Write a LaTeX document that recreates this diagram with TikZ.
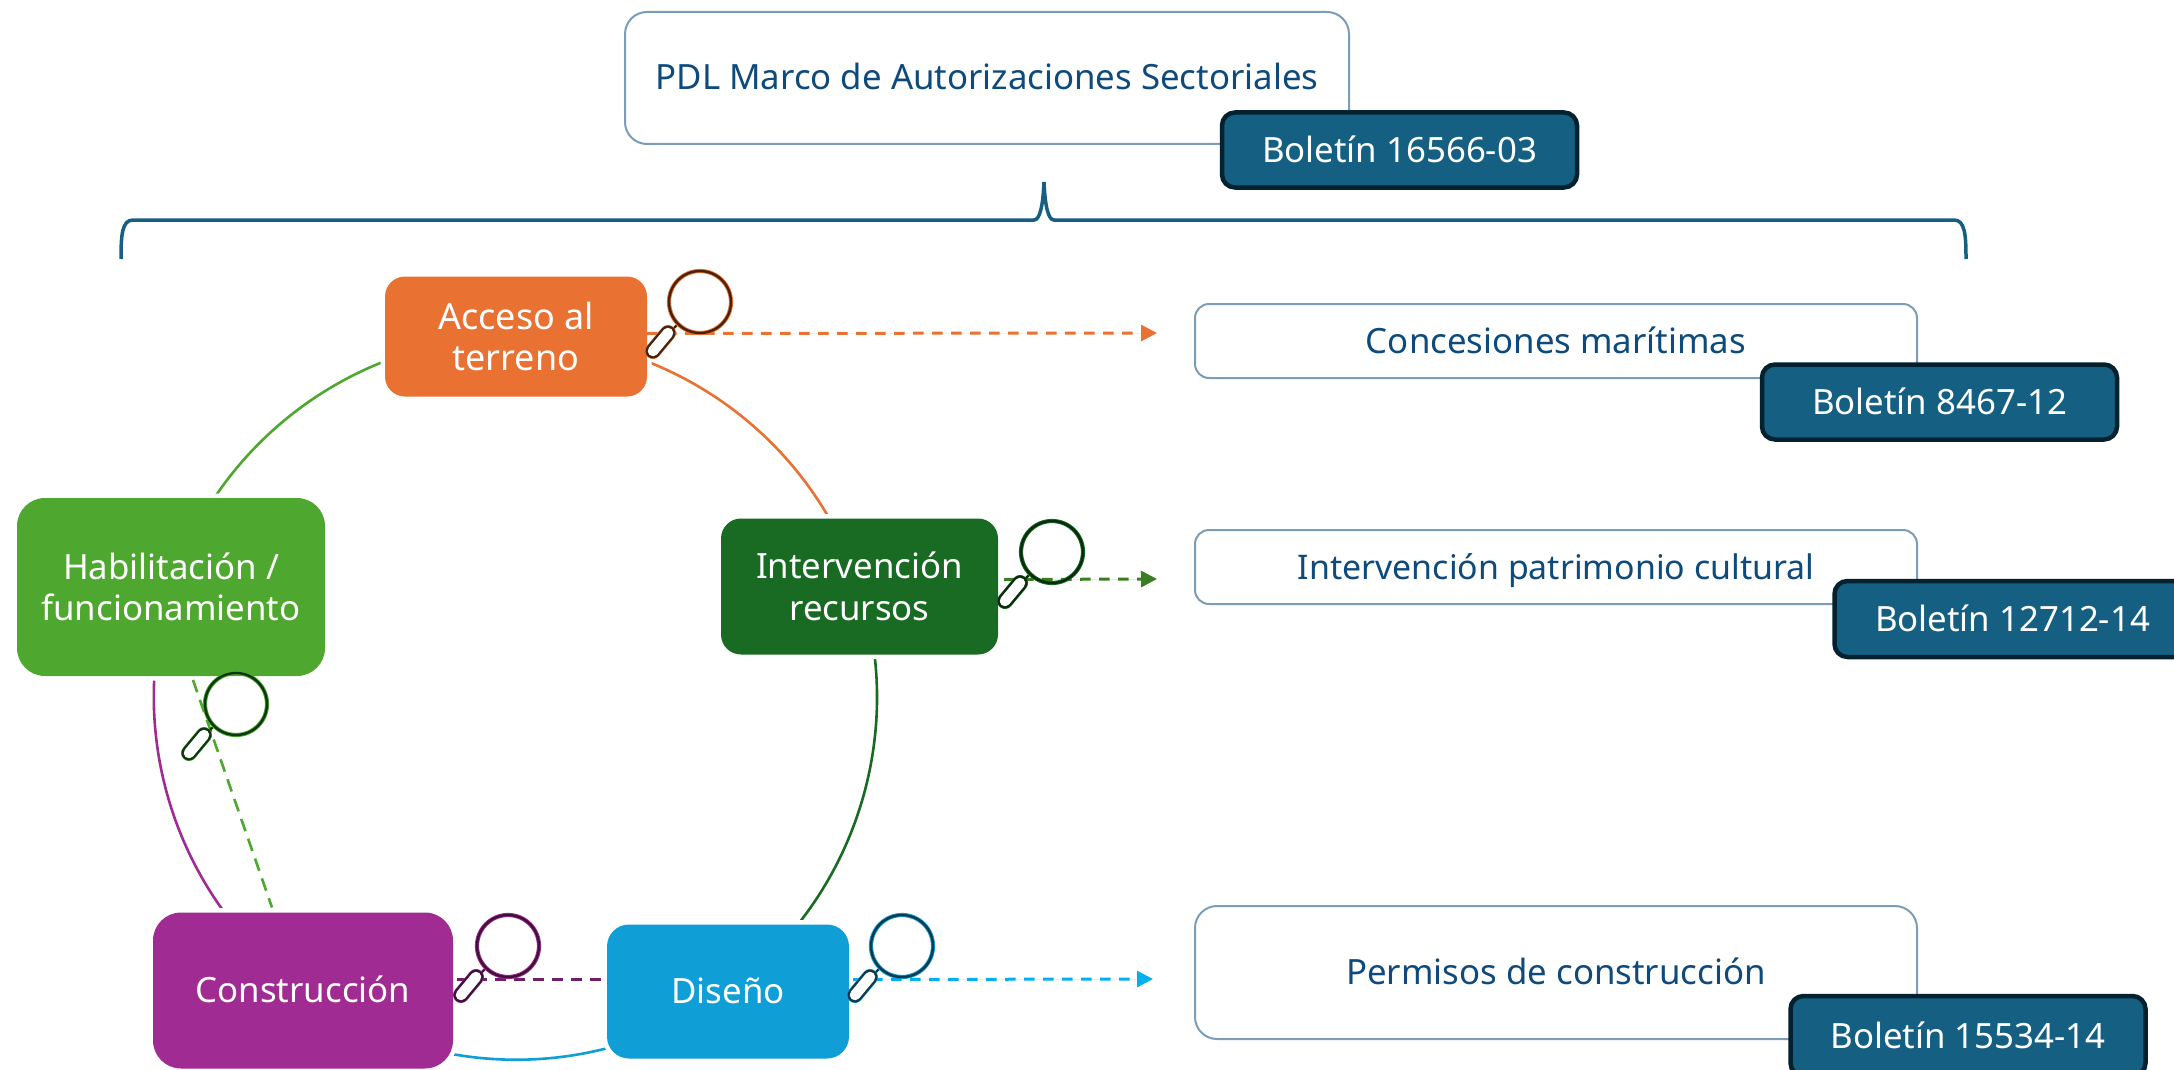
\documentclass[tikz,border=0pt]{standalone}
\usepackage{fontspec}
\setmainfont{Noto Sans}
\usetikzlibrary{arrows.meta,backgrounds,calc}
\definecolor{cOrange}{HTML}{E97132}
\definecolor{cDGreen}{HTML}{196B24}
\definecolor{cLGreen}{HTML}{4EA72E}
\definecolor{cPurple}{HTML}{A02B93}
\definecolor{cBlue}{HTML}{0F9ED5}
\definecolor{cSky}{HTML}{00B0F0}
\definecolor{cMoss}{HTML}{3B7D23}
\definecolor{cTeal}{HTML}{156082}
\definecolor{cTealDark}{HTML}{04212F}
\definecolor{cInk}{HTML}{0E4A7B}
\definecolor{cEdge}{HTML}{7C9DB8}
\tikzset{
  base/.style={rectangle,inner sep=0pt,outer sep=0pt,align=center,font=\fontsize{34.8}{41.6}\selectfont},
  oneline/.style={text height=30pt,text depth=6pt},
  stage/.style={base,text=white,fill=#1,preaction={draw=white,line width=9pt}},
  topic/.style={base,oneline,text=cInk,draw=cEdge,line width=2pt,fill=white},
  badge/.style={base,oneline,text=white,fill=cTeal,draw=cTealDark,line width=4.5pt,rounded corners=13pt,minimum width=355pt,minimum height=75pt},
  ring/.style={line width=2.6pt,bend left=36,looseness=0.937},
  dashline/.style={line width=3pt,dash pattern=on 10.5pt off 8.5pt},
  headed/.style={-{Triangle[length=16pt,width=16pt]}},
  pics/lens/.style n args={2}{code={
    \draw[draw=#2,line width=2.4pt] (-21,21) -- (-28,28);
    \draw[draw=#1,line width=4.2pt] (0,0) circle[radius=31pt];
    \draw[draw=#2,line width=2.4pt] (0,0) circle[radius=31pt];
    \draw[draw=#1,line width=16pt,line cap=round] (-32,31) -- (-47,49);
    \draw[draw=#2,line width=15pt,line cap=round] (-32,31) -- (-47,49);
    \draw[draw=white,line width=10.5pt,line cap=round] (-32,31) -- (-47,49);
  }}
}
\begin{document}
\begin{tikzpicture}[x=1pt,y=-1pt]
\path[use as bounding box,clip] (0,0) rectangle (2174,1070);

% cycle stages (centres lie on one ring)
\node[stage=cOrange,rounded corners=20pt,minimum width=262pt,minimum height=120pt] (acceso) at (516,336.5) {\fontsize{36}{41.6}\selectfont Acceso al\\\fontsize{36}{41.6}\selectfont terreno};
\node[stage=cDGreen,rounded corners=20pt,minimum width=277pt,minimum height=136pt] (interv) at (859.5,586.5) {Intervención\\recursos};
\node[stage=cBlue,oneline,rounded corners=22pt,minimum width=242pt,minimum height=134pt] (diseno) at (728,991.5) {Diseño};
\node[stage=cPurple,oneline,rounded corners=28pt,minimum width=300pt,minimum height=156pt] (constr) at (303,990.5) {Construcción};
\node[stage=cLGreen,rounded corners=28pt,minimum width=308pt,minimum height=178pt] (habil) at (171,587) {Habilitación /\\funcionamiento};

% ring arcs, passing behind the white halo of the stages
\begin{scope}[on background layer]
\fill[white] (0,0) rectangle (2174,1070);
\draw[ring,draw=cOrange] (acceso.center) to (interv.center);
\draw[ring,draw=cDGreen] (interv.center) to (diseno.center);
\draw[ring,draw=cBlue] (diseno.center) to (constr.center);
\draw[ring,draw=cPurple] (constr.center) to (habil.center);
\draw[ring,draw=cLGreen] (habil.center) to (acceso.center);
\end{scope}

% title and topic boxes
\node[topic,rounded corners=22pt,minimum width=724pt,minimum height=132pt] (title) at (987,78) {PDL Marco de Autorizaciones Sectoriales};
\node[badge] (b1) at (1399.5,150) {Boletín 16566-03};
\node[topic,rounded corners=14pt,minimum width=722pt,minimum height=74pt] (conc) at (1556,341) {Concesiones marítimas};
\node[badge] (b2) at (1939.5,402) {Boletín 8467-12};
\node[topic,font=\fontsize{33.9}{41.6}\selectfont,rounded corners=14pt,minimum width=722pt,minimum height=74pt] (patr) at (1556,567) {Intervención patrimonio cultural};
\node[badge,minimum height=76pt,minimum width=356pt] (b3) at (2012.5,619) {Boletín 12712-14};
\node[topic,rounded corners=22pt,minimum width=722pt,minimum height=133pt] (perm) at (1556,972.5) {Permisos de construcción};
\node[badge,minimum height=80pt,minimum width=355pt] (b4) at (1968,1036) {Boletín 15534-14};

% brace
\draw[cTeal,line width=3.5pt] (121,259) .. controls (121,235) and (122,220) .. (133,220)
  -- (1034,220) .. controls (1040,220) and (1043,205) .. (1044,182)
  .. controls (1045,205) and (1048,220) .. (1054,220)
  -- (1954,220) .. controls (1965,220) and (1966,235) .. (1966,259);

% dashed links
\coordinate (t1) at (1157,333);
\coordinate (t2) at (1157,579);
\coordinate (t3) at (1153,979);
\draw[dashline,headed,draw=cOrange,fill=cOrange] ([yshift=3pt]acceso.east) -- (t1);
\draw[dashline,headed,draw=cMoss,fill=cMoss] ([xshift=6pt,yshift=7pt]interv.east) -- (t2);
\draw[dashline,headed,draw=cSky,fill=cSky] ([xshift=4pt,yshift=12pt]diseno.east) -- (t3);
\draw[dashline,draw=cPurple!70!black] ([xshift=4pt,yshift=11pt]constr.east) -- ([xshift=-4pt,yshift=12pt]diseno.west);
\draw[line width=2.6pt,dash pattern=on 13pt off 8pt,draw=cLGreen] ([xshift=22pt,yshift=-4pt]habil.south) -- ([xshift=-31pt,yshift=5pt]constr.north);

% magnifiers
\pic at (700,302) {lens={cOrange}{cOrange!30!black}};
\pic at (1052,552) {lens={cDGreen}{cDGreen!40!black}};
\pic at (236,704) {lens={cLGreen}{cDGreen!50!black}};
\pic at (508,946) {lens={cPurple}{cPurple!40!black}};
\pic at (902,946) {lens={cBlue}{cTeal!60!black}};
\end{tikzpicture}
\end{document}
